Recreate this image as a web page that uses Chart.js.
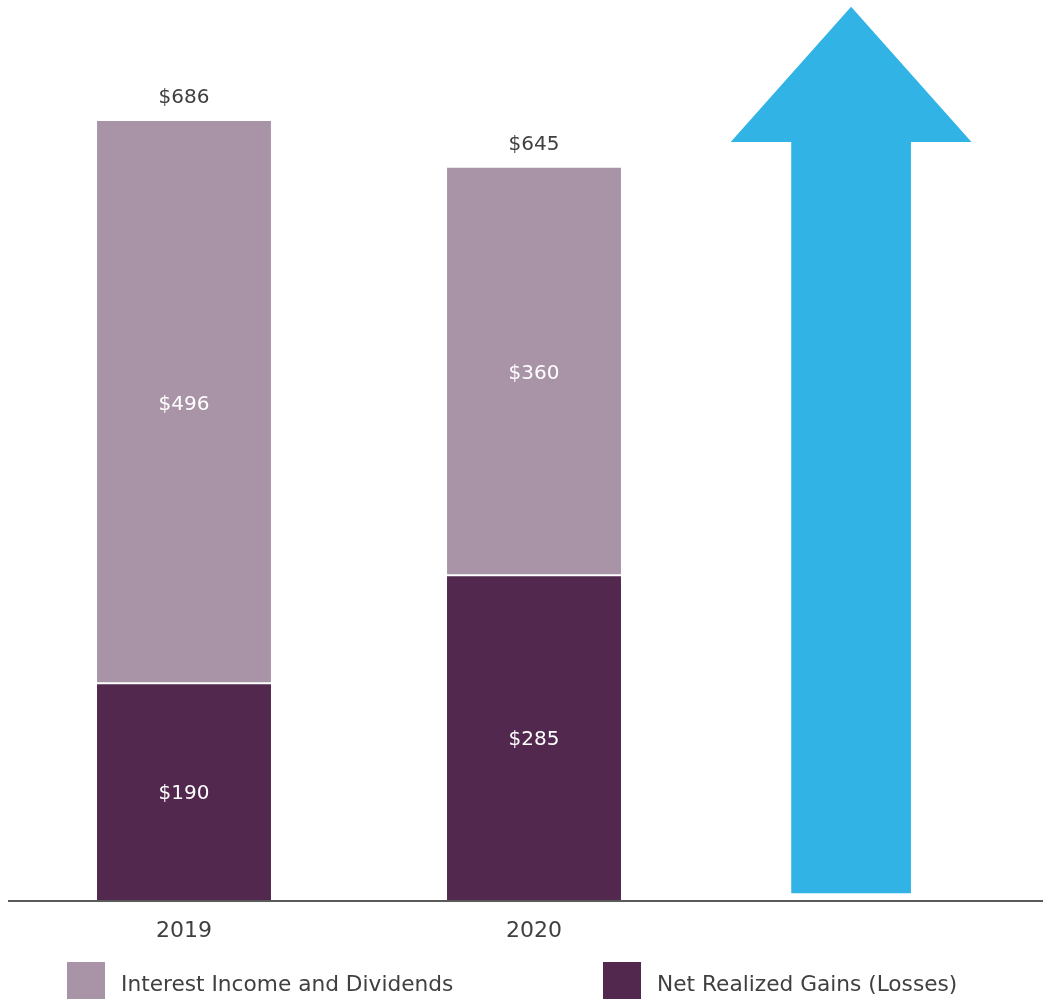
<!DOCTYPE html>
<html>
<head>
<meta charset="utf-8">
<script src="https://cdn.jsdelivr.net/npm/chart.js@4.4.1/dist/chart.umd.min.js"></script>
<style>
  html, body { margin: 0; padding: 0; background: #ffffff; }
  #wrap { position: relative; width: 1043px; height: 999px; }
  canvas { display: block; }
</style>
</head>
<body>
<div id="wrap"><canvas id="c" width="1043" height="999"></canvas></div>
<script>
// ---- data ----
const categories = ['2019', '2020'];
const netRealizedGains = [190, 285];
const interestIncome = [496, 360];
const totals = [686, 645];
const seriesNames = ['Interest Income and Dividends', 'Net Realized Gains (Losses)'];

// ---- styles ----
const COLOR_LIGHT = '#A994A7';
const COLOR_DARK = '#52284E';
const COLOR_ARROW = '#31B3E6';
const TEXT_COLOR = '#404040';
const FONT = '"DejaVu Sans", Verdana, sans-serif';

// decorative arrow geometry (in value units / category fractions)
const ARROW = { base: 6, shaftTop: 667.5, tip: 786.5, offset: 0.906, shaftHalf: 0.171, headHalf: 0.344 };

const decorPlugin = {
  id: 'decor',
  afterDatasetsDraw(chart) {
    const ctx = chart.ctx;
    const x = chart.scales.x, y = chart.scales.y;
    const W = x.getPixelForValue(1) - x.getPixelForValue(0);
    // arrow
    const cx = x.getPixelForValue(1) + ARROW.offset * W;
    const yb = y.getPixelForValue(ARROW.base), ys = y.getPixelForValue(ARROW.shaftTop), yt = y.getPixelForValue(ARROW.tip);
    ctx.save();
    ctx.fillStyle = COLOR_ARROW;
    ctx.beginPath();
    ctx.moveTo(cx - ARROW.shaftHalf * W, yb);
    ctx.lineTo(cx - ARROW.shaftHalf * W, ys);
    ctx.lineTo(cx - ARROW.headHalf * W, ys);
    ctx.lineTo(cx, yt);
    ctx.lineTo(cx + ARROW.headHalf * W, ys);
    ctx.lineTo(cx + ARROW.shaftHalf * W, ys);
    ctx.lineTo(cx + ARROW.shaftHalf * W, yb);
    ctx.closePath();
    ctx.fill();
    // axis line
    const y0 = y.getPixelForValue(0) + 1;
    ctx.strokeStyle = '#5a5a5a';
    ctx.lineWidth = 2;
    ctx.beginPath();
    ctx.moveTo(8, y0);
    ctx.lineTo(chart.width, y0);
    ctx.stroke();
    // value labels
    ctx.font = '20px ' + FONT;
    ctx.textAlign = 'center';
    ctx.textBaseline = 'middle';
    chart.data.datasets.forEach((ds, di) => {
      const meta = chart.getDatasetMeta(di);
      meta.data.forEach((bar, i) => {
        ctx.fillStyle = '#ffffff';
        ctx.fillText('$' + ds.data[i], bar.x, (bar.y + bar.base) / 2 + 2);
      });
    });
    ctx.fillStyle = TEXT_COLOR;
    totals.forEach((t, i) => {
      ctx.fillText('$' + t, x.getPixelForValue(i), y.getPixelForValue(t) - 23);
    });
    // legend
    const items = [
      { text: seriesNames[0], color: COLOR_LIGHT, x: 67 },
      { text: seriesNames[1], color: COLOR_DARK, x: 603 }
    ];
    ctx.font = '21.7px ' + FONT;
    ctx.textAlign = 'left';
    items.forEach(it => {
      ctx.fillStyle = it.color;
      ctx.fillRect(it.x, 962, 38, 37);
      ctx.fillStyle = TEXT_COLOR;
      ctx.fillText(it.text, it.x + 54, 985);
    });
    ctx.restore();
  }
};

new Chart(document.getElementById('c'), {
  type: 'bar',
  data: {
    labels: categories,
    datasets: [
      { label: seriesNames[1], data: netRealizedGains, backgroundColor: COLOR_DARK, borderWidth: 0, order: 1 },
      { label: seriesNames[0], data: interestIncome, backgroundColor: COLOR_LIGHT,
        borderColor: '#ffffff', borderWidth: { bottom: 2, top: 0, left: 0, right: 0 }, borderSkipped: false, order: 2 }
    ]
  },
  options: {
    responsive: false,
    animation: false,
    devicePixelRatio: 1,
    layout: { padding: { left: 9, right: 334, top: 0, bottom: 0 } },
    plugins: { legend: { display: false }, tooltip: { enabled: false } },
    scales: {
      x: {
        stacked: true,
        grid: { display: false, drawTicks: false },
        border: { display: false },
        ticks: { color: TEXT_COLOR, font: { family: FONT, size: 22 }, padding: 18 },
        afterFit(scale) { scale.height = 99; }
      },
      y: {
        stacked: true,
        display: false,
        min: 0,
        max: 792.5
      }
    },
    datasets: { bar: { barPercentage: 1, categoryPercentage: 0.497 } }
  },
  plugins: [decorPlugin]
});
</script>
</body>
</html>
